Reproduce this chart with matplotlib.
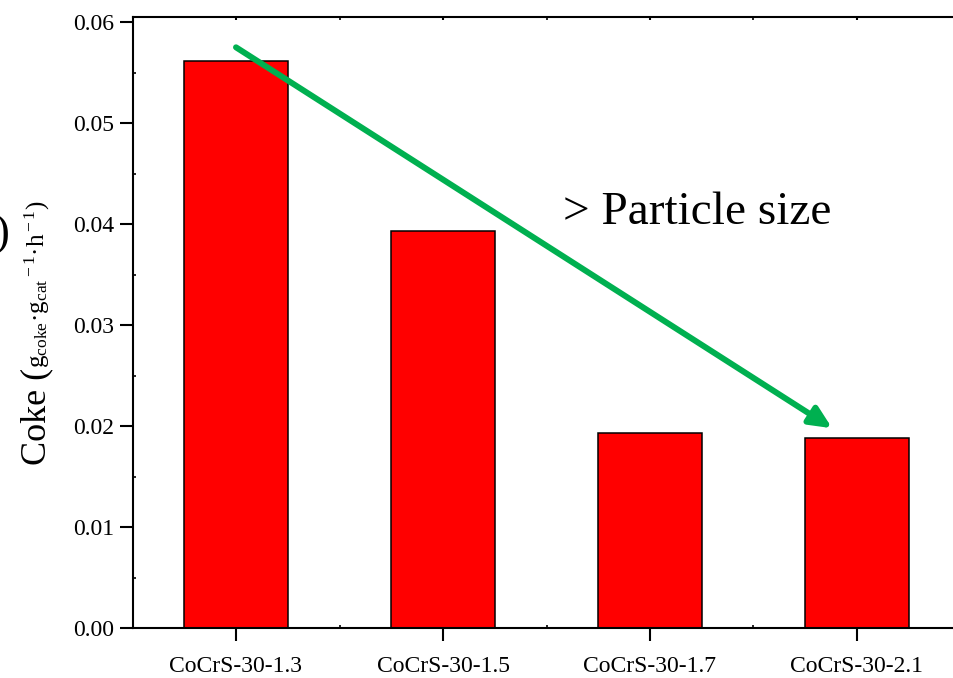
import matplotlib
matplotlib.use("Agg")
import matplotlib.pyplot as plt
from matplotlib.ticker import MultipleLocator, FixedLocator

plt.rcParams['font.family'] = ['Liberation Serif', 'DejaVu Serif']
plt.rcParams['mathtext.fontset'] = 'custom'
plt.rcParams['mathtext.rm'] = 'Liberation Serif'
plt.rcParams['mathtext.it'] = 'Liberation Serif:italic'

samples = ['CoCrS-30-1.3', 'CoCrS-30-1.5', 'CoCrS-30-1.7', 'CoCrS-30-2.1']
coke = [0.0561, 0.0393, 0.0193, 0.0188]

# trend arrow, data coordinates (start, tip)
arrow_start = (0.0, 0.0575)
arrow_end = (2.88, 0.0198)

W, H = 954, 678
fig = plt.figure(figsize=(W / 100, H / 100), dpi=100)
ax = fig.add_axes([132.5 / W, 1 - 628.3 / H, (960.5 - 132.5) / W, (628.3 - 17) / H])

x = range(len(samples))
ax.bar(x, coke, width=0.5, color='#FF0000', edgecolor='black', linewidth=1.1, zorder=2)

ax.set_xlim(-0.5, 3.5)
ax.set_ylim(0, 0.0605)
ax.set_xticks(list(x))
ax.set_xticklabels(samples)
ax.yaxis.set_major_locator(MultipleLocator(0.01))
ax.yaxis.set_minor_locator(MultipleLocator(0.005))
ax.yaxis.set_major_formatter(matplotlib.ticker.FormatStrFormatter('%.2f'))
ax.xaxis.set_minor_locator(FixedLocator([0.5, 1.5, 2.5]))

for s in ax.spines.values():
    s.set_linewidth(1.5)

ax.tick_params(axis='y', which='major', direction='out', length=9.5, width=1.5,
               labelsize=17, pad=4)
ax.tick_params(axis='y', which='minor', direction='in', length=2.5, width=1.2)
ax.tick_params(axis='x', which='major', direction='out', length=9, width=1.5,
               labelsize=17, pad=11)
ax.tick_params(axis='x', which='minor', direction='in', length=2.5, width=1.2,
               top=True)
ax.tick_params(axis='x', which='major', top=True, labeltop=False)
for t in ax.xaxis.get_major_ticks():
    t.tick2line.set_markersize(2.5)
    t.tick2line.set_marker(matplotlib.lines.TICKDOWN)

# y label in two pieces: large "Coke (" and a smaller unit part
label_x = 45 / W
lab1 = fig.text(label_x, 1 - 465 / H, 'Coke (', fontsize=26, rotation=90,
                rotation_mode='anchor', ha='left', va='baseline')
fig.canvas.draw()
top = lab1.get_window_extent().y1
fig.text(label_x, top / (H), 'g$_{\\rm coke}$\u00b7g$_{\\rm cat}$$^{\\rm -1}$\u00b7h$^{\\rm -1}$)',
         fontsize=18, rotation=90, rotation_mode='anchor', ha='left', va='baseline')

ax.annotate('', xy=arrow_end, xytext=arrow_start,
            arrowprops=dict(arrowstyle='-|>,head_length=0.65,head_width=0.3',
                            color='#00B050', lw=4.3, shrinkA=0, shrinkB=0,
                            mutation_scale=20),
            zorder=3)
ax.text(1.58, 0.0400, '> Particle size', fontsize=34, ha='left', va='baseline')

fig.text(10 / W, 1 - 235 / H, ')', fontsize=32, ha='right', va='center')

fig.savefig('out.png', dpi=100)
